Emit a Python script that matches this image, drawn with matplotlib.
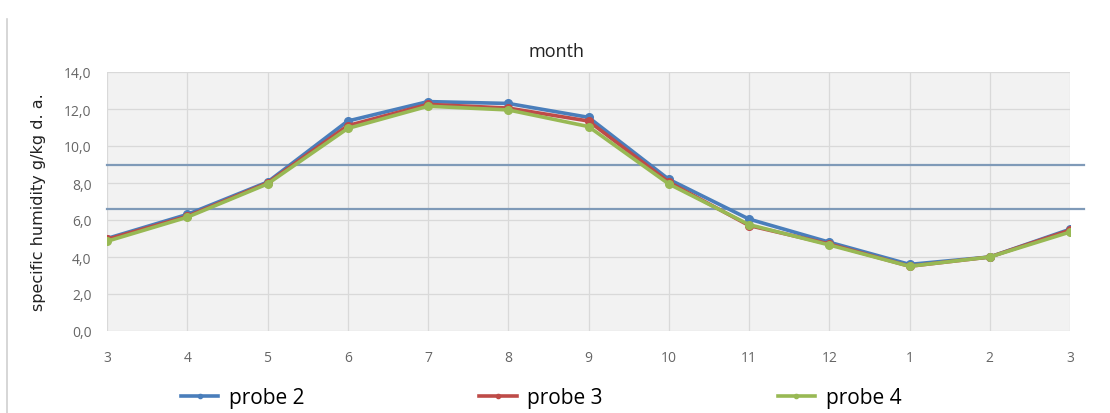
import matplotlib.pyplot as plt
from matplotlib.lines import Line2D

plt.rcParams['font.family'] = ['Open Sans', 'DejaVu Sans']

months = ['3', '4', '5', '6', '7', '8', '9', '10', '11', '12', '1', '2', '3']
probe2 = [5.0, 6.3, 8.05, 11.35, 12.4, 12.3, 11.55, 8.2, 6.05, 4.8, 3.6, 4.0, 5.5]
probe3 = [4.95, 6.2, 8.0, 11.1, 12.25, 12.05, 11.35, 8.05, 5.7, 4.7, 3.5, 4.0, 5.45]
probe4 = [4.85, 6.15, 7.95, 10.95, 12.15, 11.95, 11.05, 7.95, 5.75, 4.65, 3.5, 4.0, 5.35]
limits = [9.0, 6.6]

series = [('probe 2', probe2, '#4a7ebb'),
          ('probe 3', probe3, '#be4b48'),
          ('probe 4', probe4, '#98b954')]

fig = plt.figure(figsize=(11.1, 4.14), dpi=100)
ax = fig.add_axes([107 / 1110, 1 - 332 / 414, (1070 - 107) / 1110, (332 - 73) / 414])
ax.set_facecolor('#f2f2f2')

x = list(range(len(months)))
for lim in limits:
    ax.plot([0, 12.18], [lim, lim], color='#7f9ab8', lw=1.6, clip_on=False, zorder=2)

for name, vals, col in series:
    ax.plot(x, vals, color=col, lw=2.6, marker='o', ms=5.5, label=name, zorder=3)

ax.set_xlim(0, 12)
ax.set_ylim(0, 14)
ax.set_xticks(x)
ax.set_xticklabels(months)
yt = [0, 2, 4, 6, 8, 10, 12, 14]
ax.set_yticks(yt)
ax.set_yticklabels(['{:.1f}'.format(v).replace('.', ',') for v in yt])
ax.tick_params(length=0, labelsize=10, labelcolor='#666666')
ax.tick_params(axis='x', pad=14)
ax.tick_params(axis='y', pad=11)
ax.grid(True, color='#d9d9d9', lw=0.9)
ax.set_axisbelow(True)
for s in ax.spines.values():
    s.set_visible(False)

ax.set_ylabel('specific humidity g/kg d. a.', fontsize=11.5, color='#222222', labelpad=13,
              family='DejaVu Sans')
fig.text(556 / 1110, 1 - 52 / 414, 'month', fontsize=13, ha='center', va='center', color='#222222')

# outer frame edge on the left
fig.add_artist(Line2D([7 / 1110, 7 / 1110], [0, 1 - 20 / 414], color='#d0d0d0', lw=1.2))

handles, labels = ax.get_legend_handles_labels()
fig.legend(handles, labels, loc='center', bbox_to_anchor=(541 / 1110, 1 - 399 / 414), ncol=3,
           frameon=False, fontsize=15, columnspacing=8.4, handlelength=1.8, handletextpad=0.5,
           markerscale=0.55)

fig.savefig('out.png', dpi=100)
